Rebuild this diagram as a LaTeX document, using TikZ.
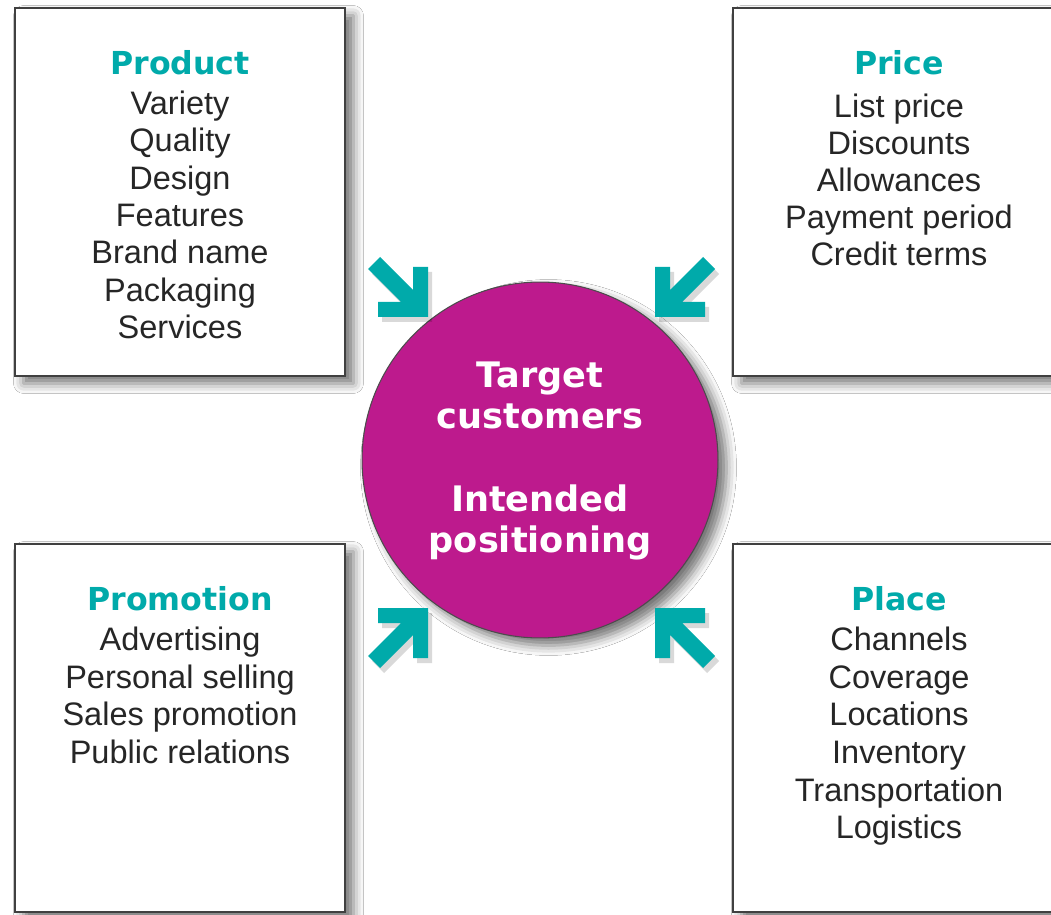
\documentclass[tikz,border=0pt]{standalone}
\usepackage{fontspec}
\setmainfont{Liberation Sans}
\newfontfamily\heavyfont{DejaVu Sans}
\usetikzlibrary{shadows.blur, positioning}
\definecolor{mixteal}{RGB}{0,170,170}
\definecolor{mixmagenta}{RGB}{189,26,141}

\begin{document}
\begin{tikzpicture}
  [
    x=0.02cm, y=-0.02cm,
    box/.style={draw=black!75,line width=0.8pt,fill=white,
      minimum width=6.6cm,minimum height=7.36cm,
      blur shadow={shadow xshift=0.17cm,shadow yshift=-0.15cm,shadow blur radius=0.2cm,shadow opacity=55}},
    head/.style={anchor=base,text=mixteal,font=\heavyfont\bfseries\fontsize{18}{21}\selectfont},
    item/.style={anchor=base,text=black!85,font=\fontsize{18.5}{21}\selectfont},
    hub/.style={circle,draw=black!70,line width=0.6pt,fill=mixmagenta,minimum size=7.12cm,inner sep=0pt,
      blur shadow={shadow xshift=0.17cm,shadow yshift=-0.15cm,shadow blur radius=0.2cm,shadow opacity=55}},
    hubtext/.style={anchor=base,text=white,font=\heavyfont\bfseries\fontsize{20}{23}\selectfont},
    pointer/.style={fill=mixteal}
  ]
  \useasboundingbox[fill=white] (0,0) rectangle (1051,915);
  % the four boxes
  \node[box] (product) at (180,192) {};
  \node[box] (price) at (898,192) {};
  \node[box] (promotion) at (180,728) {};
  \node[box] (place) at (898,728) {};
  % product
  \node[head] (product-head) at (180,75) {Product};
  \foreach \t [count=\i] in {Variety,Quality,Design,Features,Brand name,Packaging,Services} {
      \node[item] (product-\i) at (180,{77+37.4*\i}) {\t};
  }
  % price
  \node[head] (price-head) at (899,75) {Price};
  \foreach \t [count=\i] in {List price,Discounts,Allowances,Payment period,Credit terms} {
      \node[item] (price-\i) at (899,{80+37.2*\i}) {\t};
  }
  % promotion
  \node[head] (promotion-head) at (180,610) {Promotion};
  \foreach \t [count=\i] in {Advertising,Personal selling,Sales promotion,Public relations} {
      \node[item] (promotion-\i) at (180,{613+37.6*\i}) {\t};
  }
  % place
  \node[head] (place-head) at (899,610) {Place};
  \foreach \t [count=\i] in {Channels,Coverage,Locations,Inventory,Transportation,Logistics} {
      \node[item] (place-\i) at (899,{613+37.6*\i}) {\t};
  }
  % centre
  \node[hub] (target) at (540,460) {};
  \node[hubtext] (target-1) at (540,387) {Target};
  \node[hubtext] (target-2) at (540,428) {customers};
  \node[hubtext] (target-3) at (540,511) {Intended};
  \node[hubtext] (target-4) at (540,552) {positioning};
  % arrows pointing to the centre
  \foreach \cx/\cy/\sx/\sy in {428/317/1/1,655/317/-1/1,428/608/1/-1,655/608/-1/-1} {
      \fill[black,opacity=0.15,shift={(\cx+4,\cy+5)},xscale=\sx,yscale=\sy]
      (0,0) -- (-50,0) -- (-50,-15) -- (-27,-15) -- (-60,-48) -- (-48,-60) -- (-15,-27) -- (-15,-50) -- (0,-50) -- cycle;
      \fill[pointer,shift={(\cx,\cy)},xscale=\sx,yscale=\sy]
      (0,0) -- (-50,0) -- (-50,-15) -- (-27,-15) -- (-60,-48) -- (-48,-60) -- (-15,-27) -- (-15,-50) -- (0,-50) -- cycle;
  }
\end{tikzpicture}
\end{document}
